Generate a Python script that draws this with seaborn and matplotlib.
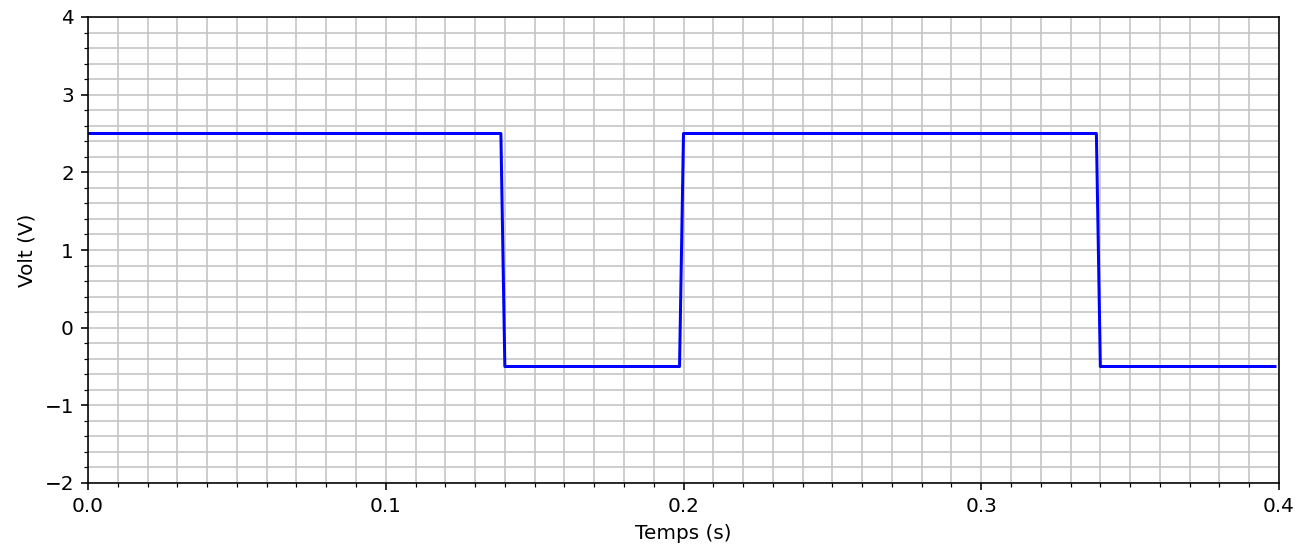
import pandas as pd
import seaborn as sns
import matplotlib
matplotlib.use('Agg')
import matplotlib.pyplot as plt
from matplotlib.ticker import MultipleLocator

temps = [0.0, 0.13867, 0.14, 0.19867, 0.2, 0.33867, 0.34, 0.39867]
volt = [2.5, 2.5, -0.5, -0.5, 2.5, 2.5, -0.5, -0.5]

df = pd.DataFrame({'Temps (s)': temps, 'Volt (V)': volt})

dpi = 144
fig, ax = plt.subplots(figsize=(1309 / dpi, 553 / dpi), dpi=dpi)
fig.subplots_adjust(left=88 / 1309, right=1279 / 1309, top=1 - 17 / 553, bottom=1 - 483 / 553)

sns.lineplot(data=df, x='Temps (s)', y='Volt (V)', color='blue', linewidth=1.5, ax=ax)

ax.set_xlim(0, 0.4)
ax.set_ylim(-2, 4)
ax.xaxis.set_major_locator(MultipleLocator(0.1))
ax.xaxis.set_minor_locator(MultipleLocator(0.01))
ax.yaxis.set_major_locator(MultipleLocator(1))
ax.yaxis.set_minor_locator(MultipleLocator(0.2))
ax.grid(which='both', color='#c4c4c4', linewidth=0.8)
ax.set_axisbelow(True)

fig.savefig('out.png', dpi=dpi)
